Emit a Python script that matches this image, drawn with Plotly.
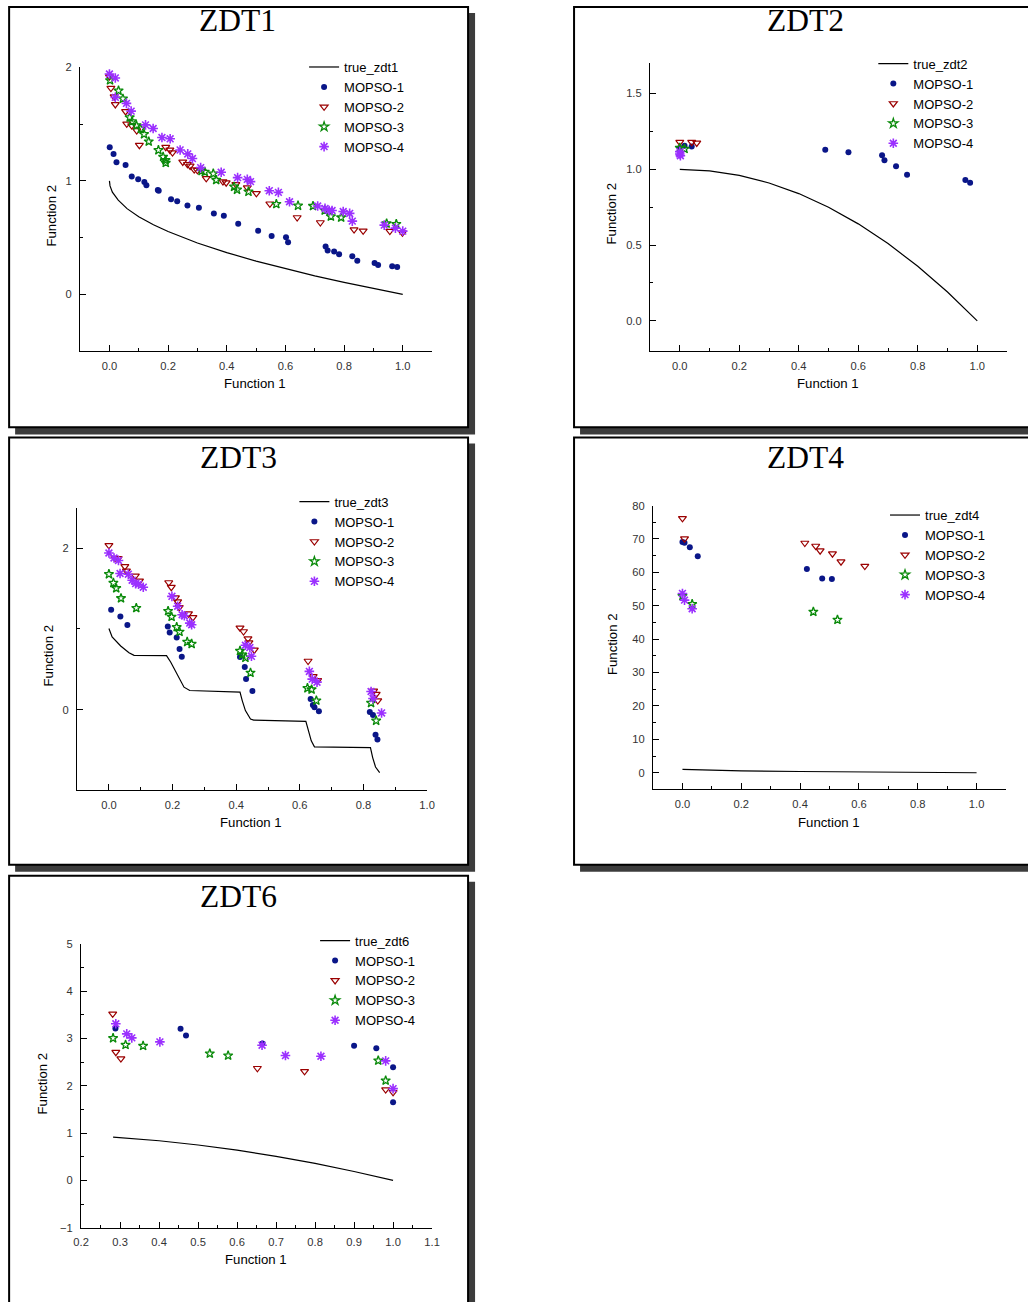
import plotly.graph_objects as go

# ---------------- DATA ----------------
problems = ["ZDT1", "ZDT2", "ZDT3", "ZDT4", "ZDT6"]
series_names = ["MOPSO-1", "MOPSO-2", "MOPSO-3", "MOPSO-4"]

# ZDT1
zdt1_true_f1 = [0.0, 0.002, 0.01, 0.03, 0.06, 0.1, 0.15, 0.2, 0.3, 0.4, 0.5, 0.6, 0.7, 0.8, 0.9, 1.0]
zdt1_true_f2 = [1.0, 0.955, 0.9, 0.83, 0.755, 0.684, 0.613, 0.553, 0.452, 0.368, 0.293, 0.225, 0.163, 0.106, 0.051, 0.0]
zdt1_m1_f1 = [0.001, 0.014, 0.024, 0.055, 0.076, 0.098, 0.119, 0.126, 0.165, 0.168, 0.210, 0.231, 0.266, 0.305, 0.356, 0.390, 0.439, 0.507, 0.553, 0.602, 0.609, 0.737, 0.744, 0.766, 0.783, 0.828, 0.845, 0.904, 0.916, 0.964, 0.981]
zdt1_m1_f2 = [1.296, 1.237, 1.163, 1.140, 1.037, 1.013, 0.990, 0.960, 0.919, 0.913, 0.837, 0.819, 0.783, 0.763, 0.713, 0.692, 0.622, 0.560, 0.513, 0.504, 0.460, 0.421, 0.386, 0.377, 0.353, 0.336, 0.295, 0.277, 0.259, 0.247, 0.242]
zdt1_m2_f1 = [0.000, 0.005, 0.016, 0.020, 0.055, 0.059, 0.076, 0.093, 0.102, 0.192, 0.206, 0.215, 0.250, 0.266, 0.275, 0.289, 0.300, 0.330, 0.387, 0.398, 0.431, 0.470, 0.501, 0.547, 0.640, 0.719, 0.834, 0.865, 0.956, 0.999]
zdt1_m2_f2 = [1.918, 1.817, 1.741, 1.673, 1.611, 1.502, 1.487, 1.443, 1.314, 1.296, 1.272, 1.249, 1.166, 1.146, 1.131, 1.099, 1.093, 1.022, 0.993, 0.984, 0.969, 0.940, 0.890, 0.798, 0.677, 0.633, 0.571, 0.560, 0.557, 0.542]
zdt1_m3_f1 = [0.002, 0.031, 0.046, 0.069, 0.077, 0.092, 0.107, 0.118, 0.134, 0.167, 0.183, 0.191, 0.192, 0.314, 0.325, 0.354, 0.364, 0.425, 0.435, 0.474, 0.569, 0.643, 0.694, 0.734, 0.755, 0.790, 0.945, 0.978]
zdt1_m3_f2 = [1.885, 1.794, 1.723, 1.558, 1.523, 1.487, 1.458, 1.411, 1.346, 1.270, 1.211, 1.181, 1.158, 1.087, 1.078, 1.063, 1.007, 0.948, 0.922, 0.904, 0.795, 0.781, 0.778, 0.739, 0.686, 0.677, 0.624, 0.619]
zdt1_m4_f1 = [0.000, 0.020, 0.020, 0.058, 0.074, 0.123, 0.149, 0.179, 0.207, 0.241, 0.267, 0.283, 0.311, 0.381, 0.437, 0.470, 0.481, 0.545, 0.576, 0.614, 0.710, 0.735, 0.749, 0.759, 0.797, 0.819, 0.828, 0.937, 0.975, 1.000]
zdt1_m4_f2 = [1.941, 1.906, 1.735, 1.682, 1.614, 1.493, 1.461, 1.381, 1.370, 1.272, 1.237, 1.196, 1.116, 1.075, 1.028, 1.013, 0.993, 0.913, 0.898, 0.816, 0.778, 0.757, 0.739, 0.739, 0.730, 0.713, 0.645, 0.610, 0.583, 0.557]

# ZDT2
zdt2_true_f1 = [0.0, 0.1, 0.2, 0.3, 0.4, 0.5, 0.6, 0.7, 0.8, 0.9, 1.0]
zdt2_true_f2 = [1.0, 0.99, 0.96, 0.91, 0.84, 0.75, 0.64, 0.51, 0.36, 0.19, 0.0]
zdt2_m1_f1 = [0.0, 0.016, 0.040, 0.489, 0.567, 0.680, 0.688, 0.727, 0.764, 0.960, 0.976]
zdt2_m1_f2 = [1.14, 1.155, 1.150, 1.130, 1.113, 1.093, 1.060, 1.020, 0.965, 0.929, 0.912]
zdt2_m2_f1 = [0.0, 0.040, 0.057]
zdt2_m2_f2 = [1.179, 1.179, 1.174]
zdt2_m3_f1 = [0.0, 0.016]
zdt2_m3_f2 = [1.141, 1.135]
zdt2_m4_f1 = [0.0, 0.0, 0.002]
zdt2_m4_f2 = [1.117, 1.101, 1.090]

# ZDT3
zdt3_true_f1 = [0.0, 0.010, 0.037, 0.063, 0.079, 0.181, 0.194, 0.215, 0.236, 0.254, 0.412, 0.419, 0.429, 0.445, 0.455, 0.619, 0.625, 0.636, 0.646, 0.822, 0.829, 0.838, 0.851]
zdt3_true_f2 = [1.004, 0.900, 0.788, 0.705, 0.672, 0.668, 0.589, 0.423, 0.278, 0.237, 0.216, 0.112, -0.012, -0.116, -0.129, -0.145, -0.241, -0.386, -0.461, -0.469, -0.593, -0.710, -0.780]
zdt3_m1_f1 = [0.007, 0.036, 0.058, 0.185, 0.191, 0.213, 0.222, 0.229, 0.412, 0.427, 0.431, 0.451, 0.634, 0.641, 0.646, 0.660, 0.820, 0.830, 0.838, 0.844]
zdt3_m1_f2 = [1.237, 1.154, 1.046, 1.029, 0.954, 0.892, 0.751, 0.656, 0.651, 0.527, 0.378, 0.232, 0.133, 0.058, 0.029, -0.021, -0.029, -0.066, -0.311, -0.369]
zdt3_m2_f1 = [0.000, 0.019, 0.029, 0.050, 0.055, 0.083, 0.096, 0.188, 0.196, 0.209, 0.216, 0.221, 0.250, 0.264, 0.412, 0.423, 0.437, 0.440, 0.457, 0.626, 0.642, 0.656, 0.832, 0.840, 0.845]
zdt3_m2_f2 = [2.033, 1.876, 1.871, 1.772, 1.718, 1.656, 1.593, 1.573, 1.515, 1.386, 1.336, 1.266, 1.187, 1.141, 1.012, 0.967, 0.880, 0.830, 0.739, 0.602, 0.411, 0.361, 0.232, 0.191, 0.112]
zdt3_m3_f1 = [0.000, 0.014, 0.023, 0.038, 0.086, 0.186, 0.197, 0.213, 0.222, 0.246, 0.260, 0.412, 0.419, 0.429, 0.445, 0.624, 0.637, 0.652, 0.824, 0.840]
zdt3_m3_f2 = [1.676, 1.568, 1.502, 1.378, 1.257, 1.220, 1.149, 1.021, 0.963, 0.838, 0.813, 0.726, 0.680, 0.643, 0.456, 0.266, 0.249, 0.112, 0.083, -0.137]
zdt3_m4_f1 = [0.000, 0.016, 0.030, 0.035, 0.061, 0.073, 0.084, 0.093, 0.108, 0.198, 0.216, 0.230, 0.237, 0.254, 0.260, 0.429, 0.443, 0.448, 0.630, 0.639, 0.654, 0.824, 0.830, 0.857]
zdt3_m4_f2 = [1.938, 1.876, 1.846, 1.685, 1.676, 1.602, 1.560, 1.552, 1.515, 1.402, 1.280, 1.174, 1.162, 1.071, 1.050, 0.797, 0.768, 0.660, 0.473, 0.378, 0.340, 0.224, 0.137, -0.041]

# ZDT4
zdt4_true_f1 = [0.0, 0.1, 0.2, 0.4, 0.6, 0.8, 1.0]
zdt4_true_f2 = [1.0, 0.68, 0.55, 0.37, 0.23, 0.11, 0.0]
zdt4_m1_f1 = [0.0, 0.007, 0.025, 0.052, 0.423, 0.475, 0.508]
zdt4_m1_f2 = [69.1, 68.9, 67.5, 64.8, 61.0, 58.2, 58.0]
zdt4_m2_f1 = [0.0, 0.007, 0.416, 0.453, 0.468, 0.510, 0.539, 0.620]
zdt4_m2_f2 = [76.2, 70.1, 68.8, 67.9, 66.5, 65.6, 63.2, 61.9]
zdt4_m3_f1 = [0.0, 0.033, 0.445, 0.527]
zdt4_m3_f2 = [52.9, 50.5, 48.2, 45.8]
zdt4_m4_f1 = [0.0, 0.007, 0.033]
zdt4_m4_f2 = [53.7, 51.7, 49.1]

# ZDT6
zdt6_true_f1 = [0.282, 0.35, 0.4, 0.5, 0.6, 0.7, 0.8, 0.9, 1.0]
zdt6_true_f2 = [0.918, 0.88, 0.84, 0.75, 0.64, 0.51, 0.36, 0.19, 0.0]
zdt6_m1_f1 = [0.288, 0.455, 0.469, 0.665, 0.900, 0.957, 1.000, 1.000]
zdt6_m1_f2 = [3.212, 3.205, 3.063, 2.894, 2.845, 2.795, 2.393, 1.652]
zdt6_m2_f1 = [0.281, 0.289, 0.302, 0.652, 0.773, 0.981, 1.000]
zdt6_m2_f2 = [3.522, 2.711, 2.576, 2.372, 2.308, 1.920, 1.864]
zdt6_m3_f1 = [0.282, 0.314, 0.359, 0.530, 0.577, 0.962, 0.981]
zdt6_m3_f2 = [3.007, 2.866, 2.845, 2.682, 2.640, 2.534, 2.111]
zdt6_m4_f1 = [0.289, 0.317, 0.330, 0.402, 0.664, 0.724, 0.815, 0.981, 1.000]
zdt6_m4_f2 = [3.311, 3.099, 3.014, 2.929, 2.859, 2.640, 2.626, 2.527, 1.941]

# ---------------- LAYOUT SPECS ----------------
# positions below are given in pixels of the final picture; the page shows the
# figure with an 8px body margin and is photographed scaled by SX, SY.
IMG_W, IMG_H = 1028, 1302
MARGIN = 8
SX, SY = IMG_W / (IMG_W + 2 * MARGIN), IMG_H / (IMG_H + 2 * MARGIN)
W, H = 1036, 1310
FS = 1 / SX
FONT = "Liberation Sans, Arial, sans-serif"
SERIF = "Liberation Serif, Times New Roman, serif"

def fx(p):
    return (p / SX - MARGIN) / W

def fy(p):
    return 1 - (p / SY - MARGIN) / H

panels = [
    dict(name="ZDT1", true=(zdt1_true_f1, zdt1_true_f2),
         series=[(zdt1_m1_f1, zdt1_m1_f2), (zdt1_m2_f1, zdt1_m2_f2), (zdt1_m3_f1, zdt1_m3_f2), (zdt1_m4_f1, zdt1_m4_f2)],
         box=(9, 9, 468, 428), plot=(80, 69, 432, 352),
         xr=[-0.1, 1.1], xd=0.2, x0=0, xfmt=".1f", yr=[-0.5, 2], yd=1, y0=0, yfmt="d",
         title=(237, 22), f1=(255, 384), f2=(51.7, 217), leg=(309, 73.3)),
    dict(name="ZDT2", true=(zdt2_true_f1, zdt2_true_f2),
         series=[(zdt2_m1_f1, zdt2_m1_f2), (zdt2_m2_f1, zdt2_m2_f2), (zdt2_m3_f1, zdt2_m3_f2), (zdt2_m4_f1, zdt2_m4_f2)],
         box=(574, 9, 1045, 428), plot=(650, 65, 1007, 352),
         xr=[-0.1, 1.1], xd=0.2, x0=0, xfmt=".1f", yr=[-0.2, 1.7], yd=0.5, y0=0, yfmt=".1f",
         title=(805, 22), f1=(827.5, 384), f2=(611.7, 215), leg=(878.3, 70)),
    dict(name="ZDT3", true=(zdt3_true_f1, zdt3_true_f2),
         series=[(zdt3_m1_f1, zdt3_m1_f2), (zdt3_m2_f1, zdt3_m2_f2), (zdt3_m3_f1, zdt3_m3_f2), (zdt3_m4_f1, zdt3_m4_f2)],
         box=(9, 438, 468, 864), plot=(77, 508, 427, 790),
         xr=[-0.1, 1.0], xd=0.2, x0=0, xfmt=".1f", yr=[-1, 2.5], yd=2, y0=0, yfmt="d",
         title=(238, 458.5), f1=(251, 821.7), f2=(48.3, 655), leg=(299.3, 506.7)),
    dict(name="ZDT4", true=(zdt4_true_f1, zdt4_true_f2),
         series=[(zdt4_m1_f1, zdt4_m1_f2), (zdt4_m2_f1, zdt4_m2_f2), (zdt4_m3_f1, zdt4_m3_f2), (zdt4_m4_f1, zdt4_m4_f2)],
         box=(574, 438, 1045, 864), plot=(653, 506, 1006, 789),
         xr=[-0.1, 1.1], xd=0.2, x0=0, xfmt=".1f", yr=[-5, 80], yd=10, y0=0, yfmt="d",
         title=(805, 458.5), f1=(829, 821.7), f2=(612.7, 644.3), leg=(890, 520)),
    dict(name="ZDT6", true=(zdt6_true_f1, zdt6_true_f2),
         series=[(zdt6_m1_f1, zdt6_m1_f2), (zdt6_m2_f1, zdt6_m2_f2), (zdt6_m3_f1, zdt6_m3_f2), (zdt6_m4_f1, zdt6_m4_f2)],
         box=(9, 875, 468, 1315), plot=(81, 943, 432, 1226),
         xr=[0.2, 1.1], xd=0.1, x0=0.2, xfmt=".1f", yr=[-1, 5], yd=1, y0=0, yfmt="d",
         title=(238, 896), f1=(256, 1258), f2=(42.3, 1081.7), leg=(320, 944.3)),
]

styles = [
    dict(symbol="circle", size=6, color="#0a1688", line=dict(width=0, color="#0a1688")),
    dict(symbol="triangle-down-open", size=7, color="#9a0000", line=dict(width=1.2, color="#9a0000")),
    dict(symbol="star-open", size=7, color="#0a8a0a", line=dict(width=1.3, color="#0a8a0a")),
    dict(symbol="asterisk-open", size=8, color="#9b30ff", line=dict(width=1.6, color="#9b30ff")),
]

fig = go.Figure()
shapes = []
annotations = []
layout = {}

for i, p in enumerate(panels):
    k = "" if i == 0 else str(i + 1)
    xa, ya = "x" + k, "y" + k
    lg = "legend" + k
    bx0, by0, bx1, by1 = p["box"]
    # shadow then box
    shapes.append(dict(type="rect", xref="paper", yref="paper", layer="below",
                       x0=fx(bx0 + 6), x1=fx(bx1 + 7), y0=fy(by1 + 7), y1=fy(by0 + 6),
                       fillcolor="#3c3c3c", line=dict(width=0)))
    shapes.append(dict(type="rect", xref="paper", yref="paper", layer="below",
                       x0=fx(bx0), x1=fx(bx1), y0=fy(by1), y1=fy(by0),
                       fillcolor="white", line=dict(width=2, color="black")))
    px0, py0, px1, py1 = p["plot"]
    axis_common = dict(showline=True, linecolor="black", linewidth=1.3, showgrid=False, zeroline=False,
                       ticks="inside", ticklen=6, tickwidth=1.2, tickcolor="black",
                       tickfont=dict(family=FONT, size=11 * FS, color="#333333"), mirror=False)
    layout["xaxis" + k] = dict(domain=[fx(px0), fx(px1)], anchor=ya, range=p["xr"],
                               tick0=p["x0"], dtick=p["xd"], tickformat=p["xfmt"],
                               minor=dict(ticks="inside", ticklen=3, tickcolor="black", dtick=p["xd"] / 2, tick0=p["x0"]),
                               ticklabelstandoff=4, **axis_common)
    layout["yaxis" + k] = dict(domain=[fy(py1), fy(py0)], anchor=xa, range=p["yr"],
                               tick0=p["y0"], dtick=p["yd"], tickformat=p["yfmt"],
                               minor=dict(ticks="inside", ticklen=3, tickcolor="black", dtick=p["yd"] / 2, tick0=p["y0"]),
                               ticklabelstandoff=5, **axis_common)
    # true front
    fig.add_trace(go.Scatter(x=p["true"][0], y=p["true"][1], mode="lines", name="true_" + p["name"].lower(),
                             line=dict(color="black", width=1.2), xaxis=xa, yaxis=ya, legend=lg))
    for (sx, sy), nm, st in zip(p["series"], series_names, styles):
        fig.add_trace(go.Scatter(x=sx, y=sy, mode="markers", name=nm, marker=st,
                                 xaxis=xa, yaxis=ya, legend=lg))
    lx, ly = p["leg"]
    layout[lg] = dict(x=fx(lx - 5), y=fy(ly - 19.5), xanchor="left", yanchor="top",
                      bgcolor="rgba(0,0,0,0)", borderwidth=0,
                      font=dict(family=FONT, size=13, color="black"), itemwidth=30)
    tx, ty = p["title"]
    annotations.append(dict(text=p["name"], xref="paper", yref="paper", x=fx(tx), y=fy(ty),
                            xanchor="center", yanchor="middle", showarrow=False,
                            font=dict(family=SERIF, size=31 * FS, color="black")))
    annotations.append(dict(text="Function 1", xref="paper", yref="paper", x=fx(p["f1"][0]), y=fy(p["f1"][1]),
                            xanchor="center", yanchor="middle", showarrow=False,
                            font=dict(family=FONT, size=13 * FS, color="black")))
    annotations.append(dict(text="Function 2", xref="paper", yref="paper", x=fx(p["f2"][0]), y=fy(p["f2"][1]),
                            xanchor="center", yanchor="middle", showarrow=False, textangle=-90,
                            font=dict(family=FONT, size=13 * FS, color="black")))

fig.update_layout(width=W, height=H, margin=dict(l=0, r=0, t=0, b=0),
                  paper_bgcolor="white", plot_bgcolor="rgba(0,0,0,0)",
                  shapes=shapes, annotations=annotations, **layout)

fig.write_html("out.html")
